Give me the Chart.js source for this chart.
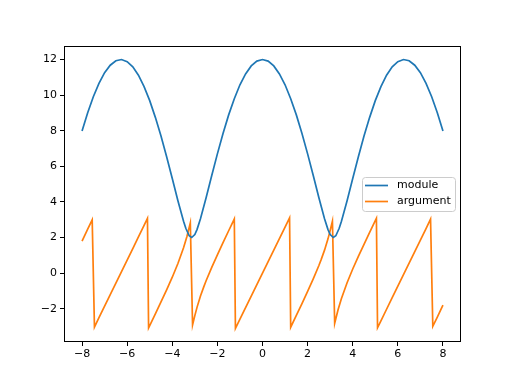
<!DOCTYPE html>
<html>
<head>
<meta charset="utf-8">
<script src="https://cdn.jsdelivr.net/npm/chart.js@4/dist/chart.umd.min.js"></script>
<style>
  html, body { margin: 0; padding: 0; background: #fff; }
  #wrap { width: 512px; height: 384px; }
</style>
</head>
<body>
<div id="wrap"><canvas id="chart" width="512" height="384"></canvas></div>
<script>
const COLOR_MODULE = '#1f77b4';
const COLOR_ARGUMENT = '#ff7f0e';

const X_TICKS = [-8, -6, -4, -2, 0, 2, 4, 6, 8];
const Y_TICKS = [-2, 0, 2, 4, 6, 8, 10, 12];

// module
const moduleX = [-8, -7.75, -7.5, -7.25, -7, -6.75, -6.5, -6.25, -6, -5.75, -5.5, -5.25, -5, -4.75, -4.5, -4.25,
  -4, -3.75, -3.5, -3.4, -3.25, -3.14, -3, -2.9, -2.75, -2.5, -2.25, -2, -1.75, -1.5, -1.25, -1, -0.75, -0.5, -0.25,
  0, 0.25, 0.5, 0.75, 1, 1.25, 1.5, 1.75, 2, 2.25, 2.5, 2.75, 2.9, 3, 3.14, 3.25, 3.4, 3.5, 3.75,
  4, 4.25, 4.5, 4.75, 5, 5.25, 5.5, 5.75, 6, 6.25, 6.5, 6.75, 7, 7.25, 7.5, 7.75, 8];
const moduleY = [7.99, 9.01, 9.91, 10.66, 11.26, 11.68, 11.93, 12.0, 11.88, 11.59, 11.12, 10.48, 9.69, 8.75, 7.7, 6.54,
  5.32, 4.07, 2.91, 2.52, 2.1, 2.0, 2.17, 2.46, 3.05, 4.23, 5.48, 6.7, 7.84, 8.89, 9.8, 10.58, 11.19, 11.64, 11.91,
  12.0, 11.91, 11.64, 11.19, 10.58, 9.8, 8.89, 7.84, 6.7, 5.48, 4.23, 3.05, 2.46, 2.17, 2.0, 2.1, 2.52, 2.91, 4.07,
  5.32, 6.54, 7.7, 8.75, 9.69, 10.48, 11.12, 11.59, 11.88, 12.0, 11.93, 11.68, 11.26, 10.66, 9.91, 9.01, 7.99];

// argument
const argumentX = [-8, -7.75, -7.55, -7.45, -7.25, -7, -6.75, -6.5, -6.25, -6, -5.75, -5.5, -5.25, -5.1, -5.05, -5,
  -4.75, -4.5, -4.25, -4, -3.75, -3.5, -3.35, -3.25, -3.2, -3.1, -3, -2.9, -2.75, -2.6, -2.5, -2.25, -2, -1.75,
  -1.5, -1.25, -1.2, -1, -0.75, -0.5, -0.25,
  0, 0.25, 0.5, 0.75, 1, 1.2, 1.25, 1.5, 1.75, 2, 2.25, 2.5, 2.6, 2.75, 2.9, 3, 3.1, 3.2, 3.25, 3.35, 3.5, 3.75,
  4, 4.25, 4.5, 4.75, 5, 5.05, 5.1, 5.25, 5.5, 5.75, 6, 6.25, 6.5, 6.75, 7, 7.25, 7.45, 7.55, 7.75, 8];
const argumentY = [1.8, 2.47, 2.99, -3.03, -2.5, -1.85, -1.21, -0.56, 0.09, 0.73, 1.38, 2.03, 2.68, 3.07, -3.08, -2.95,
  -2.29, -1.62, -0.94, -0.23, 0.54, 1.42, 2.06, 2.56, 2.82, -2.91, -2.39, -1.91, -1.29, -0.76, -0.43, 0.32, 1.03, 1.71,
  2.38, 3.04, -3.11, -2.59, -1.94, -1.29, -0.65,
  0, 0.65, 1.29, 1.94, 2.59, 3.11, -3.04, -2.38, -1.71, -1.03, -0.32, 0.43, 0.76, 1.29, 1.91, 2.39, 2.91, -2.82, -2.56,
  -2.06, -1.42, -0.54, 0.23, 0.94, 1.62, 2.29, 2.95, 3.08, -3.07, -2.68, -2.03, -1.38, -0.73, -0.09, 0.56, 1.21,
  1.85, 2.5, 3.03, -2.99, -2.47, -1.8];

const toPoints = (xs, ys) => xs.map((x, i) => ({ x, y: ys[i] }));
const fmt = (v) => (v < 0 ? '\u2212' + Math.abs(v) : String(v));

const FONT = { family: 'DejaVu Sans', size: 11 };

// matplotlib-like box around the axes, taken from the scales themselves
const framePlugin = {
  id: 'frame',
  afterDatasetsDraw(chart) {
    const { ctx } = chart;
    const xs = chart.scales.x;
    const ys = chart.scales.y;
    const l = Math.round(xs.left), r = Math.round(xs.right);
    const t = Math.round(ys.top), b = Math.round(ys.bottom);
    ctx.save();
    ctx.strokeStyle = '#000';
    ctx.lineWidth = 1;
    ctx.strokeRect(l + 0.5, t + 0.5, r - l - 1, b - t - 1);
    ctx.restore();
  },
};

// legend box at middle right, like loc='best'
const legendPlugin = {
  id: 'mplLegend',
  afterDraw(chart) {
    const { ctx } = chart;
    const x0 = 362, y0 = 177, w = 93, h = 34;
    ctx.save();
    ctx.beginPath();
    ctx.roundRect(x0 + 0.5, y0 + 0.5, w, h, 3);
    ctx.fillStyle = 'rgba(255,255,255,0.8)';
    ctx.fill();
    ctx.strokeStyle = '#cccccc';
    ctx.lineWidth = 1;
    ctx.stroke();
    ctx.font = '11px "DejaVu Sans"';
    ctx.textBaseline = 'middle';
    chart.data.datasets.forEach((ds, i) => {
      const y = y0 + 8.5 + i * 16;
      ctx.strokeStyle = ds.borderColor;
      ctx.lineWidth = 1.7;
      ctx.beginPath();
      ctx.moveTo(x0 + 3, y);
      ctx.lineTo(x0 + 26, y);
      ctx.stroke();
      ctx.fillStyle = '#000';
      ctx.fillText(ds.label, x0 + 35, y);
    });
    ctx.restore();
  },
};

new Chart(document.getElementById('chart'), {
  type: 'scatter',
  data: {
    datasets: [
      {
        label: 'module',
        data: toPoints(moduleX, moduleY),
        showLine: true,
        borderColor: COLOR_MODULE,
        backgroundColor: COLOR_MODULE,
        borderWidth: 1.7,
        pointRadius: 0,
        tension: 0,
        clip: false,
      },
      {
        label: 'argument',
        data: toPoints(argumentX, argumentY),
        showLine: true,
        borderColor: COLOR_ARGUMENT,
        backgroundColor: COLOR_ARGUMENT,
        borderWidth: 1.7,
        pointRadius: 0,
        tension: 0,
        clip: false,
      },
    ],
  },
  options: {
    responsive: false,
    animation: false,
    layout: { padding: { top: 46, right: 51, left: 0, bottom: 0 } },
    scales: {
      x: {
        type: 'linear',
        min: -8.8,
        max: 8.8,
        afterBuildTicks: (scale) => { scale.ticks = X_TICKS.map((value) => ({ value })); },
        afterFit: (scale) => { scale.height = 42; },
        ticks: { color: '#000', font: FONT, padding: 2, maxRotation: 0, callback: fmt },
        grid: { drawOnChartArea: false, drawTicks: true, tickLength: 4, color: '#000' },
        border: { display: false },
      },
      y: {
        type: 'linear',
        min: -3.87,
        max: 12.76,
        afterBuildTicks: (scale) => { scale.ticks = Y_TICKS.map((value) => ({ value })); },
        afterFit: (scale) => { scale.width = 64; },
        ticks: { color: '#000', font: FONT, padding: 3, callback: fmt },
        grid: { drawOnChartArea: false, drawTicks: true, tickLength: 4, color: '#000' },
        border: { display: false },
      },
    },
    plugins: {
      legend: { display: false },
      tooltip: { enabled: false },
    },
  },
  plugins: [framePlugin, legendPlugin],
});
</script>
</body>
</html>
